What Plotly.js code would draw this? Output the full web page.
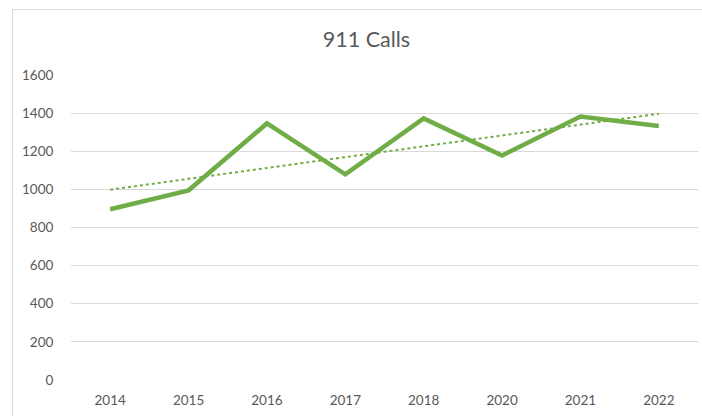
<!DOCTYPE html>
<html>
<head>
<meta charset="utf-8">
<script src="https://cdn.plot.ly/plotly-3.0.1.min.js"></script>
<style>html,body{margin:0;padding:0;background:#fff;}#chart{width:702px;height:416px;}</style>
</head>
<body>
<div id="chart"></div>
<script>
const years = ["2014", "2015", "2016", "2017", "2018", "2020", "2021", "2022"];
const calls = [896, 995, 1346, 1079, 1372, 1178, 1382, 1332];
const chartTitle = "911 Calls";
const yTicks = [0, 200, 400, 600, 800, 1000, 1200, 1400, 1600];

// Linear trendline (least squares over category index)
const n = calls.length;
const xs = calls.map((_, i) => i + 1);
const mx = xs.reduce((a, b) => a + b, 0) / n;
const my = calls.reduce((a, b) => a + b, 0) / n;
let sxy = 0, sxx = 0;
for (let i = 0; i < n; i++) { sxy += (xs[i] - mx) * (calls[i] - my); sxx += (xs[i] - mx) ** 2; }
const slope = sxy / sxx, intercept = my - slope * mx;
const trend = xs.map(x => intercept + slope * x);

const green = "#70ad47";
const font = "Lato, 'Open Sans', sans-serif";

const traces = [
  { x: years, y: trend, type: "scatter", mode: "lines", line: { color: green, width: 2, dash: "dot" }, hoverinfo: "skip" },
  { x: years, y: calls, type: "scatter", mode: "lines", line: { color: green, width: 4.5 } }
];

const layout = {
  width: 702, height: 416,
  margin: { l: 71, r: 4, t: 75, b: 36 },
  paper_bgcolor: "#fff", plot_bgcolor: "#fff",
  showlegend: false,
  font: { family: font, color: "#595959", size: 13.5 },
  title: { text: chartTitle, font: { family: font, size: 21.5, color: "#595959" }, x: 0.522, xref: "container", xanchor: "center", y: 0.905, yref: "container", yanchor: "middle" },
  xaxis: { type: "category", range: [-0.5, years.length - 0.5], showgrid: false, zeroline: false, showline: false, ticks: "outside", ticklen: 8, tickcolor: "rgba(0,0,0,0)", tickfont: { size: 13.5, color: "#595959" }, fixedrange: true },
  yaxis: { range: [0, 1600], tickvals: yTicks, showgrid: true, gridcolor: "#d9d9d9", gridwidth: 1, zeroline: false, showline: false, ticks: "outside", ticklen: 14, tickcolor: "rgba(0,0,0,0)", tickfont: { size: 13.5, color: "#595959" }, fixedrange: true },
  shapes: [
    { type: "rect", xref: "paper", yref: "paper", x0: -0.0933, x1: 1.2, y0: -0.5, y1: 1.2148, line: { color: "#d9d9d9", width: 1 }, fillcolor: "rgba(0,0,0,0)", layer: "below" }
  ]
};

Plotly.newPlot("chart", traces, layout, { displayModeBar: false, staticPlot: true });
</script>
</body>
</html>
